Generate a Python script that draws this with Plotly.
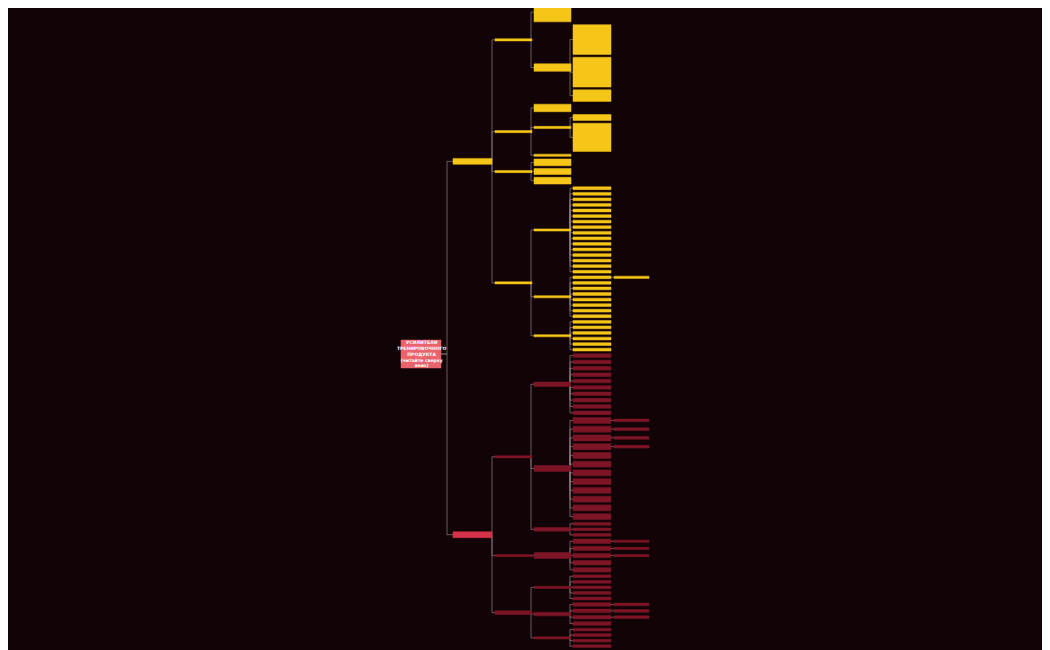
import plotly.graph_objects as go

# mind map structure: (height px, children); leaves have empty children
yellow_a = [(25, []), (10, [(38, []), (38, []), (15, [])])]
yellow_b = [(10, []), (3, [(8, []), (36, [])]), (3, [])]
yellow_c = [(9, []), (8, []), (9, [])]
yellow_d = [
    (3, [(4, [])] * 16),
    (3, [(4, [(3, [])])] + [(4, [])] * 7),
    (3, [(4, [])] * 6),
]
red_e = [
    (6, [(5, [])] * 10),
    (8, [(8, [(4, [])])] * 4 + [(8, [])] * 8),
    (5, [(4, [])] * 3),
]
red_f = [(8, [(6, [(3, [])])] * 3 + [(6, [])] * 2)]
red_g = [
    (3, [(4, [])] * 5),
    (5, [(5, [(4, [])])] * 3 + [(5, [])]),
    (3, [(4, [])] * 4),
]

root_label = "УСИЛИТЕЛИ<br>ТРЕНИРОВОЧНОГО<br>ПРОДУКТА<br>(читайте сверху<br>вниз)"
branches = [
    ("yellow", [(3, yellow_a), (3, yellow_b), (3, yellow_c), (3, yellow_d)]),
    ("red", [(3, red_e), (3, red_f), (5, red_g)]),
]

cols = [(401, 441), (453, 492), (495, 532), (534, 571), (573, 611), (614, 649)]
GAP = 3

nodes = []  # (depth, y, h, branch)
links = []  # (parent idx, child idx)


def extent(h, kids):
    if not kids:
        return h + GAP
    return max(h + GAP, sum(extent(*k) for k in kids))


def place(h, kids, depth, top, branch):
    ext = extent(h, kids)
    idx = len(nodes)
    nodes.append(None)
    if kids:
        t = top + (ext - sum(extent(*k) for k in kids)) / 2
        for k in kids:
            c = place(k[0], k[1], depth + 1, t, branch)
            links.append((idx, c))
            t += extent(*k)
        ys = [nodes[l[1]][1] for l in links if l[0] == idx]
        y = (ys[0] + ys[-1]) / 2
    else:
        y = top + ext / 2
    nodes[idx] = (depth, y, h, branch)
    return idx


tree = [(8, branches[0][1]), (8, branches[1][1])]
root = len(nodes)
nodes.append(None)
t = 0
for (h, kids), (b, _) in zip(tree, branches):
    c = place(h, kids, 1, t, b)
    links.append((root, c))
    t += extent(h, kids)
total = t
nodes[root] = (0, 0, 28, "root")

scale = 648 / total
nodes = [(d, 1 + y * scale, max(h * scale - 0.4, 2.2), b) for d, y, h, b in nodes]
nodes[root] = (0, 354, 28, "root")

fill = {"yellow": "#f5c518", "red": "#7e1526", "root": "#e8636b"}
fig = go.Figure()

for p, c in links:
    dp, yp, _, _ = nodes[p]
    dc, yc, _, bc = nodes[c]
    x0 = cols[dp][1]
    x1 = cols[dc][0]
    xm = x1 - 3 if dp > 0 else x0 + 6
    fig.add_trace(go.Scatter(
        x=[x0, xm, xm, x1], y=[yp, yp, yc, yc], mode="lines",
        line=dict(color="#8c8285", width=0.7), hoverinfo="skip", showlegend=False))

for i, (d, y, h, b) in enumerate(nodes):
    x0, x1 = cols[d]
    col = fill[b]
    if d == 1 and b == "red":
        col = "#d6334a"
    fig.add_shape(type="rect", x0=x0, x1=x1, y0=y - h / 2, y1=y + h / 2,
                  fillcolor=col, line=dict(color=col, width=0.5), layer="above")

fig.add_annotation(x=421, y=354, text="<b>" + root_label + "</b>", showarrow=False,
                   font=dict(size=4.5, color="white", family="DejaVu Sans"))

fig.update_layout(
    width=1050, height=650, margin=dict(l=0, r=0, t=0, b=0),
    paper_bgcolor="#120307", plot_bgcolor="#120307",
    xaxis=dict(range=[8, 1058], visible=False),
    yaxis=dict(range=[658, 8], visible=False),
)
fig.write_html("out.html")
